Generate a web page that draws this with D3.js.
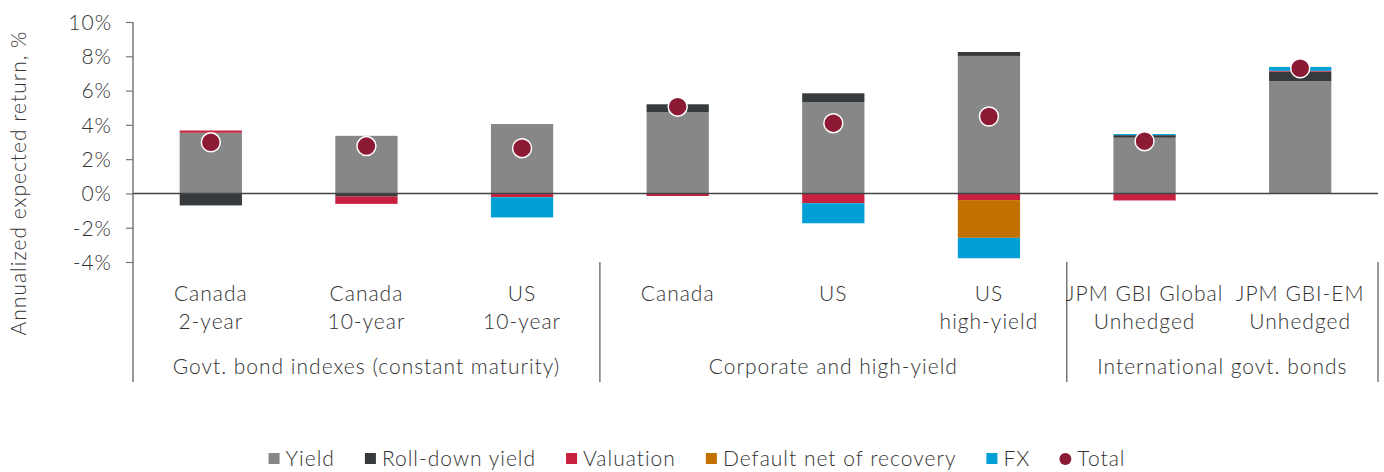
<!DOCTYPE html>
<html>
<head>
<meta charset="utf-8">
<script src="https://cdn.jsdelivr.net/npm/d3@7"></script>
<style>
  body { margin: 0; background: #fff; }
  svg text { font-family: Lato, "Open Sans", sans-serif; font-weight: 300; fill: #333; letter-spacing: 1px; }
</style>
</head>
<body>
<svg id="chart" width="1384" height="472"></svg>
<script>
// data
const categories = ["Canada 2-year", "Canada 10-year", "US 10-year", "Canada corp", "US corp", "US high-yield", "JPM GBI Global", "JPM GBI-EM"];
const labelLines = [["Canada", "2-year"], ["Canada", "10-year"], ["US", "10-year"], ["Canada"], ["US"], ["US", "high-yield"], ["JPM GBI Global", "Unhedged"], ["JPM GBI-EM", "Unhedged"]];
const groups = ["Govt. bond indexes (constant maturity)", "Corporate and high-yield", "International govt. bonds"];
const groupSpans = [[0, 3], [3, 6], [6, 8]];

const yieldVals     = [3.54, 3.36, 4.05, 4.75, 5.33, 8.02, 3.25, 6.54];
const rollDownVals  = [-0.70, -0.18, 0, 0.45, 0.51, 0.23, 0.15, 0.56];
const valuationVals = [0.13, -0.43, -0.22, -0.15, -0.57, -0.39, -0.41, 0.05];
const defaultVals   = [0, 0, 0, 0, 0, -2.20, 0, 0];
const fxVals        = [0, 0, -1.18, 0, -1.17, -1.19, 0.06, 0.23];
const totalVals     = [2.98, 2.76, 2.64, 5.06, 4.10, 4.49, 3.05, 7.30];

const seriesNames = ["Yield", "Roll-down yield", "Valuation", "Default net of recovery", "FX"];
const seriesColors = ["#878787", "#373a3c", "#c8203f", "#c27100", "#00a0d6"];
const totalColor = "#8c1a34";
const yTicks = [-4, -2, 0, 2, 4, 6, 8, 10];

const svg = d3.select("#chart");
const plotLeft = 133, plotRight = 1378, plotTop = 22, plotBottom = 262;
const fontSize = "21px";

const x = d3.scaleBand().domain(categories).range([plotLeft, plotRight]).padding(0);
const y = d3.scaleLinear().domain([-4, 10]).range([plotBottom, plotTop]);

const rows = categories.map((c, i) => ({
	cat: c,
	"Yield": yieldVals[i],
	"Roll-down yield": rollDownVals[i],
	"Valuation": valuationVals[i],
	"Default net of recovery": defaultVals[i],
	"FX": fxVals[i]
}));

const stacked = d3.stack()
	.keys(seriesNames)
	.offset(d3.stackOffsetDiverging)(rows);

const barW = x.bandwidth() * 0.4;

// bars
svg.append("g").selectAll("g")
	.data(stacked)
	.join("g")
		.attr("fill", (d, i) => seriesColors[i])
	.selectAll("rect")
	.data(d => d)
	.join("rect")
		.attr("x", d => x(d.data.cat) + (x.bandwidth() - barW) / 2)
		.attr("y", d => y(Math.max(d[0], d[1])))
		.attr("width", barW)
		.attr("height", d => Math.abs(y(d[0]) - y(d[1])));

// y axis
const yAxis = d3.axisLeft(y)
	.tickValues(yTicks)
	.tickFormat(d => d + "%")
	.tickSize(7)
	.tickPadding(14);

const yg = svg.append("g")
	.attr("transform", "translate(" + plotLeft + ",0)")
	.call(yAxis);
yg.select(".domain").remove();
yg.selectAll(".tick line").attr("stroke", "#777").attr("stroke-width", 1.2);
yg.selectAll(".tick text").style("font-size", fontSize).attr("dy", "0.35em");

// axis line running down through category area
svg.append("line")
	.attr("x1", plotLeft).attr("x2", plotLeft)
	.attr("y1", plotTop).attr("y2", 382)
	.attr("stroke", "#777").attr("stroke-width", 1.5);

// zero line
svg.append("line")
	.attr("x1", plotLeft).attr("x2", plotRight)
	.attr("y1", y(0)).attr("y2", y(0))
	.attr("stroke", "#444").attr("stroke-width", 1.5);

// group separators
groupSpans.forEach(s => {
	const xe = s[1] < categories.length ? x(categories[s[1]]) : plotRight;
	svg.append("line")
		.attr("x1", xe).attr("x2", xe)
		.attr("y1", plotBottom).attr("y2", 382)
		.attr("stroke", "#777").attr("stroke-width", 1.5);
});

// category labels
const catLabels = svg.append("g").selectAll("text")
	.data(categories)
	.join("text")
		.attr("text-anchor", "middle")
		.style("font-size", fontSize);
catLabels.each(function(d, i) {
	const t = d3.select(this);
	labelLines[i].forEach((line, j) => {
		t.append("tspan")
			.attr("x", x(d) + x.bandwidth() / 2)
			.attr("y", 301 + j * 28)
			.text(line);
	});
});

// group labels
svg.append("g").selectAll("text")
	.data(groups)
	.join("text")
		.attr("text-anchor", "middle")
		.style("font-size", fontSize)
		.attr("x", (d, i) => {
			const s = groupSpans[i];
			const x0 = x(categories[s[0]]);
			const x1 = s[1] < categories.length ? x(categories[s[1]]) : plotRight;
			return (x0 + x1) / 2;
		})
		.attr("y", 374)
		.text(d => d);

// totals
svg.append("g").selectAll("circle")
	.data(totalVals)
	.join("circle")
		.attr("cx", (d, i) => x(categories[i]) + x.bandwidth() / 2)
		.attr("cy", d => y(d))
		.attr("r", 9.5)
		.attr("fill", totalColor)
		.attr("stroke", "#fff")
		.attr("stroke-width", 1.5);

// y title
svg.append("text")
	.attr("transform", "translate(26,183) rotate(-90)")
	.attr("text-anchor", "middle")
	.style("font-size", fontSize)
	.text("Annualized expected return, %");

// legend
const legendItems = seriesNames.map((n, i) => ({ name: n, color: seriesColors[i], dot: false }))
	.concat([{ name: "Total", color: totalColor, dot: true }]);

const legendGap = 30;
const legend = svg.append("g");
let lx = 0;
legendItems.forEach(item => {
	const g = legend.append("g").attr("transform", "translate(" + lx + ",0)");
	if (item.dot) {
		g.append("circle").attr("cx", 5).attr("cy", 0).attr("r", 6).attr("fill", item.color);
	} else {
		g.append("rect").attr("x", 0).attr("y", -6).attr("width", 11).attr("height", 11).attr("fill", item.color);
	}
	const t = g.append("text")
		.attr("x", 17)
		.attr("dy", "0.35em")
		.style("font-size", fontSize)
		.text(item.name);
	lx += 17 + t.node().getComputedTextLength() + legendGap;
});
const legendW = lx - legendGap;
legend.attr("transform", "translate(" + (697 - legendW / 2) + ",459)");
</script>
</body>
</html>
